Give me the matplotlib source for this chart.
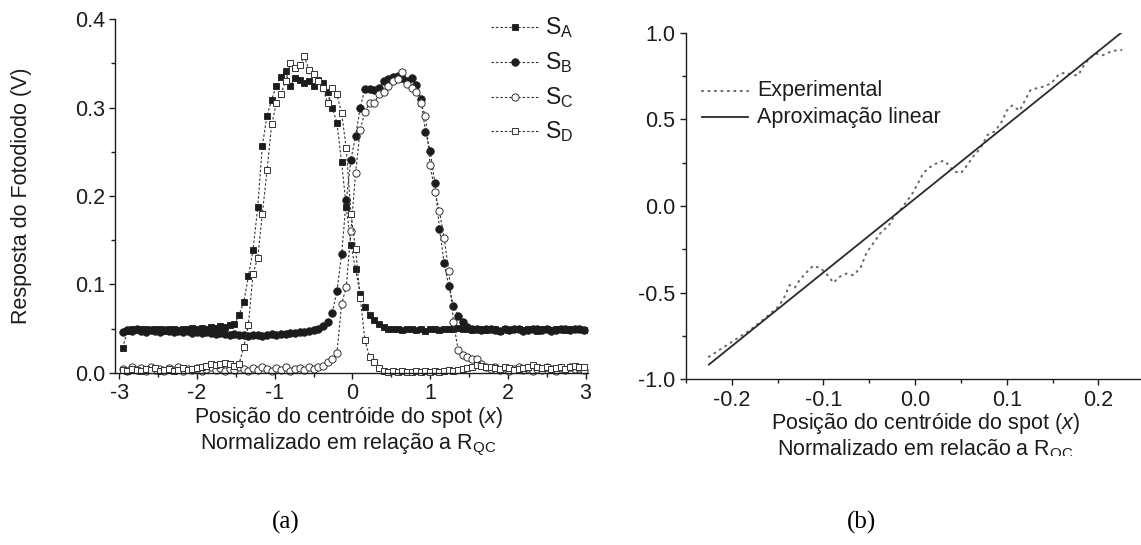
import numpy as np
import matplotlib
matplotlib.use("Agg")
import matplotlib.pyplot as plt
from matplotlib.ticker import MultipleLocator, FormatStrFormatter
from matplotlib.lines import Line2D
from matplotlib.transforms import Bbox

# ---------------- data: photodiode responses (panel a) ----------------
# sampling positions of the spot centroid (normalised to R_QC), step 0.06
x_pos = np.linspace(-2.96, 2.98, 100)

s_a = [0.028,
       0.047, 0.049, 0.048, 0.050, 0.049, 0.048, 0.050, 0.049, 0.047, 0.050,
       0.049, 0.048, 0.050, 0.049, 0.051, 0.050, 0.051, 0.050, 0.052, 0.051,
       0.053, 0.052, 0.054, 0.055,
       0.065, 0.080, 0.109, 0.139, 0.187, 0.257, 0.291, 0.309, 0.325, 0.335,
       0.341, 0.324, 0.334, 0.331, 0.328, 0.330, 0.325, 0.331, 0.328, 0.318,
       0.300, 0.283, 0.238, 0.188, 0.145, 0.117, 0.089, 0.074, 0.065, 0.060,
       0.055, 0.052, 0.050,
       0.049, 0.050, 0.048, 0.049, 0.050, 0.048, 0.049, 0.047, 0.049, 0.050,
       0.048, 0.049, 0.050, 0.049, 0.051, 0.050, 0.049, 0.048, 0.050, 0.049,
       0.048, 0.050, 0.049, 0.047, 0.049, 0.048, 0.050, 0.049, 0.048, 0.050,
       0.049, 0.047, 0.049, 0.050, 0.048, 0.049, 0.050, 0.048, 0.049, 0.050,
       0.049, 0.048]

s_b = [0.046, 0.048, 0.047, 0.049, 0.047, 0.046, 0.048, 0.047, 0.046, 0.048,
       0.047, 0.046, 0.047, 0.046, 0.047, 0.045, 0.046, 0.045, 0.046, 0.045,
       0.044, 0.045, 0.044, 0.043, 0.044,
       0.043, 0.043, 0.042, 0.043, 0.043, 0.042, 0.043, 0.044, 0.043, 0.044,
       0.044, 0.045, 0.045, 0.046, 0.046, 0.047, 0.048,
       0.050, 0.053, 0.057, 0.068, 0.092, 0.134, 0.195, 0.241, 0.268, 0.300,
       0.321, 0.321, 0.320, 0.322, 0.330, 0.332, 0.335, 0.336, 0.334, 0.330,
       0.333, 0.326, 0.310, 0.273, 0.251, 0.215, 0.163, 0.124, 0.098, 0.075,
       0.064, 0.057, 0.052, 0.050,
       0.049, 0.048, 0.050, 0.049, 0.048, 0.047, 0.049, 0.048, 0.050, 0.049,
       0.047, 0.048, 0.049, 0.050, 0.048, 0.049, 0.047, 0.048, 0.050, 0.049,
       0.048, 0.049, 0.050, 0.048]

s_c = [0.004, 0.002, 0.006, 0.003, 0.005, 0.002, 0.006, 0.003, 0.004, 0.002,
       0.005, 0.003, 0.006, 0.002, 0.004, 0.003, 0.005, 0.002, 0.004, 0.006,
       0.003, 0.005, 0.002, 0.004, 0.003, 0.006, 0.004, 0.002, 0.005, 0.003,
       0.006, 0.004, 0.002, 0.005, 0.003, 0.006, 0.002, 0.004, 0.005, 0.003,
       0.006, 0.004,
       0.006, 0.008, 0.012, 0.016, 0.022, 0.078, 0.097, 0.160, 0.226, 0.275,
       0.295, 0.305, 0.305, 0.315, 0.318, 0.325, 0.330, 0.332, 0.340, 0.327,
       0.322, 0.318, 0.305, 0.291, 0.235, 0.205, 0.183, 0.152, 0.115, 0.057,
       0.026, 0.020, 0.018, 0.015, 0.016, 0.010, 0.007,
       0.004, 0.006, 0.003, 0.005, 0.002, 0.004, 0.006, 0.003, 0.005, 0.002,
       0.004, 0.003, 0.006, 0.004, 0.002, 0.005, 0.003, 0.006, 0.004, 0.005,
       0.003]

s_d = [0.003, 0.002, 0.004, 0.003, 0.002, 0.004, 0.003, 0.005, 0.002, 0.003,
       0.004, 0.002, 0.003, 0.005, 0.003, 0.004, 0.005,
       0.006, 0.008, 0.010, 0.009, 0.010, 0.011, 0.010, 0.008, 0.010,
       0.029, 0.054, 0.112, 0.130, 0.180, 0.229, 0.281, 0.305, 0.316, 0.330,
       0.350, 0.345, 0.348, 0.358, 0.343, 0.338, 0.330, 0.322, 0.305, 0.322,
       0.315, 0.294, 0.254, 0.180, 0.140, 0.085, 0.037, 0.018, 0.012, 0.005,
       0.002,
       0.001, 0.002, 0.001, 0.002, 0.001, 0.001, 0.002, 0.001, 0.002, 0.001,
       0.002, 0.001, 0.002, 0.003, 0.002, 0.003, 0.004, 0.005, 0.006,
       0.009, 0.008, 0.007, 0.006, 0.005, 0.004, 0.006, 0.005, 0.003, 0.004,
       0.005, 0.006, 0.009, 0.007, 0.005, 0.007, 0.004, 0.005, 0.006, 0.004,
       0.007, 0.008, 0.006, 0.007]

series_labels = ["A", "B", "C", "D"]

# ---------------- data: position signal (panel b) ----------------
x_exp = [-0.225, -0.180, -0.164, -0.149, -0.143, -0.137, -0.131, -0.126,
         -0.118, -0.111, -0.103, -0.097, -0.089, -0.083, -0.075, -0.067,
         -0.059, -0.053, -0.045, -0.037, -0.029, -0.023, -0.015, -0.008,
         -0.002, 0.004, 0.009, 0.015, 0.023, 0.031, 0.036, 0.042, 0.050,
         0.056, 0.064, 0.071, 0.079, 0.087, 0.095, 0.100, 0.106, 0.114,
         0.120, 0.126, 0.133, 0.141, 0.149, 0.157, 0.164, 0.172, 0.178,
         0.184, 0.190, 0.197, 0.205, 0.215, 0.225]
y_exp = [-0.870, -0.716, -0.648, -0.580, -0.530, -0.456, -0.470, -0.427,
         -0.380, -0.344, -0.360, -0.390, -0.443, -0.410, -0.390, -0.400,
         -0.350, -0.270, -0.210, -0.150, -0.115, -0.060, -0.015, 0.035,
         0.080, 0.140, 0.190, 0.220, 0.245, 0.262, 0.240, 0.200, 0.190,
         0.230, 0.290, 0.330, 0.410, 0.430, 0.490, 0.550, 0.580, 0.550,
         0.610, 0.670, 0.680, 0.690, 0.710, 0.760, 0.770, 0.755, 0.755,
         0.810, 0.850, 0.880, 0.870, 0.895, 0.900]

# linear approximation (end points of the fitted line)
x_fit = [-0.225, 0.225]
y_fit = [-0.915, 1.000]

# ---------------- figure ----------------
W, H, DPI = 1141, 545, 100
plt.rcParams.update({
    "font.family": ["Liberation Sans", "DejaVu Sans"],
    "mathtext.fontset": "custom",
    "mathtext.rm": "Liberation Sans",
    "mathtext.it": "Liberation Sans:italic",
    "axes.unicode_minus": False,
})

fig = plt.figure(figsize=(W / DPI, H / DPI), dpi=DPI)
INK = "#1c1c1c"
FS = 15.5


def fx(px):
    return px / W


def fy(py):
    return 1 - py / H


def axes_px(x0, y0, x1, y1):
    return fig.add_axes([fx(x0), fy(y1), (x1 - x0) / W, (y1 - y0) / H])


def style_axes(ax, xpad, ypad):
    for side in ("top", "right"):
        ax.spines[side].set_visible(False)
    for side in ("left", "bottom"):
        ax.spines[side].set_color(INK)
        ax.spines[side].set_linewidth(1.0)
    ax.tick_params(which="major", direction="out", length=4.6, width=1.0,
                   color=INK, labelsize=FS, labelcolor=INK)
    ax.tick_params(which="minor", direction="out", length=2.6, width=1.0,
                   color=INK)
    ax.tick_params(axis="x", which="major", pad=xpad)
    ax.tick_params(axis="y", which="major", pad=ypad)
    ax.patch.set_alpha(0)


# ---- panel (a) ----
ax1 = axes_px(115, 19.3, 588, 372.7)
style_axes(ax1, xpad=2.6, ypad=2.2)
ax1.set_xlim(-3.057, 3.032)
ax1.set_ylim(0.0, 0.4)
ax1.xaxis.set_major_locator(MultipleLocator(1))
ax1.xaxis.set_minor_locator(MultipleLocator(0.5))
ax1.yaxis.set_major_locator(MultipleLocator(0.1))
ax1.yaxis.set_minor_locator(MultipleLocator(0.05))
ax1.xaxis.set_major_formatter(FormatStrFormatter("%d"))
ax1.yaxis.set_major_formatter(FormatStrFormatter("%.1f"))

line_kw = dict(color="#333333", lw=0.8, linestyle=(0, (2.2, 1.8)))
styles = [
    dict(marker="s", ms=5.0, mfc=INK, mec=INK, mew=0.6),
    dict(marker="o", ms=5.4, mfc=INK, mec=INK, mew=0.6),
    dict(marker="o", ms=5.2, mfc="white", mec="#333333", mew=0.7),
    dict(marker="s", ms=5.0, mfc="white", mec="#333333", mew=0.7),
]
for vals, st in zip([s_a, s_b, s_c, s_d], styles):
    ax1.plot(x_pos, vals, clip_on=False, **line_kw, **st)

# legend of panel (a)
leg_y = [26.7, 62.0, 96.5, 130.7]
for lab, st, yy in zip(series_labels, styles, leg_y):
    fig.add_artist(Line2D([fx(491), fx(540)], [fy(yy), fy(yy)],
                          transform=fig.transFigure, **line_kw))
    fig.add_artist(Line2D([fx(515)], [fy(yy)], transform=fig.transFigure,
                          linestyle="none", **st))
    fig.text(fx(545), fy(yy + 1), "S$_\\mathregular{%s}$" % lab,
             fontsize=FS + 1, color=INK, ha="left", va="center")

fig.text(fx(22), fy(196), "Resposta do Fotodiodo (V)", rotation=90,
         fontsize=FS, color=INK, ha="center", va="center")
fig.text(fx(348), fy(423), "Posição do centróide do spot ($\\mathit{x}$)",
         fontsize=FS, color=INK, ha="center", va="baseline")
fig.text(fx(348), fy(449), "Normalizado em relação a R$_\\mathregular{QC}$",
         fontsize=FS, color=INK, ha="center", va="baseline")

# ---- panel (b) ----
ax2 = axes_px(686, 32.7, 1144.2, 379.3)
style_axes(ax2, xpad=2.8, ypad=3.4)
ax2.set_xlim(-0.25, 0.25)
ax2.set_ylim(-1.0, 1.0)
ax2.xaxis.set_major_locator(MultipleLocator(0.1))
ax2.xaxis.set_minor_locator(MultipleLocator(0.05))
ax2.yaxis.set_major_locator(MultipleLocator(0.5))
ax2.yaxis.set_minor_locator(MultipleLocator(0.25))
ax2.xaxis.set_major_formatter(FormatStrFormatter("%.1f"))
ax2.yaxis.set_major_formatter(FormatStrFormatter("%.1f"))

exp_kw = dict(color="#6a6a6a", lw=1.5, linestyle=(0, (0.5, 2.6)),
              dash_capstyle="round")
fit_kw = dict(color="#2a2a2a", lw=1.3)
ax2.plot(x_exp, y_exp, **exp_kw)
ax2.plot(x_fit, y_fit, **fit_kw)

for yy, kw, lab in [(90.7, exp_kw, "Experimental"),
                    (117.3, fit_kw, "Aproximação linear")]:
    fig.add_artist(Line2D([fx(702), fx(748)], [fy(yy), fy(yy)],
                          transform=fig.transFigure, **kw))
    fig.text(fx(757), fy(yy), lab, fontsize=FS, color=INK,
             ha="left", va="center")

fig.text(fx(925), fy(429), "Posição do centróide do spot ($\\mathit{x}$)",
         fontsize=FS, color=INK, ha="center", va="baseline")
t2 = fig.text(fx(925), fy(455), "Normalizado em relação a R$_\\mathregular{QC}$",
              fontsize=FS, color=INK, ha="center", va="baseline")
# the lower edge of this line is cut off by the sub-figure frame
t2.set_clip_box(Bbox.from_extents(0, H - 456, W, H))
t2.set_clip_on(True)

# ---- sub-figure captions ----
fig.text(fx(286), fy(522), "(a)", fontsize=18, family="Liberation Serif",
         color="black", ha="center", va="center")
fig.text(fx(862), fy(522), "(b)", fontsize=18, family="Liberation Serif",
         color="black", ha="center", va="center")

fig.savefig("out.png", dpi=DPI, facecolor="white")
